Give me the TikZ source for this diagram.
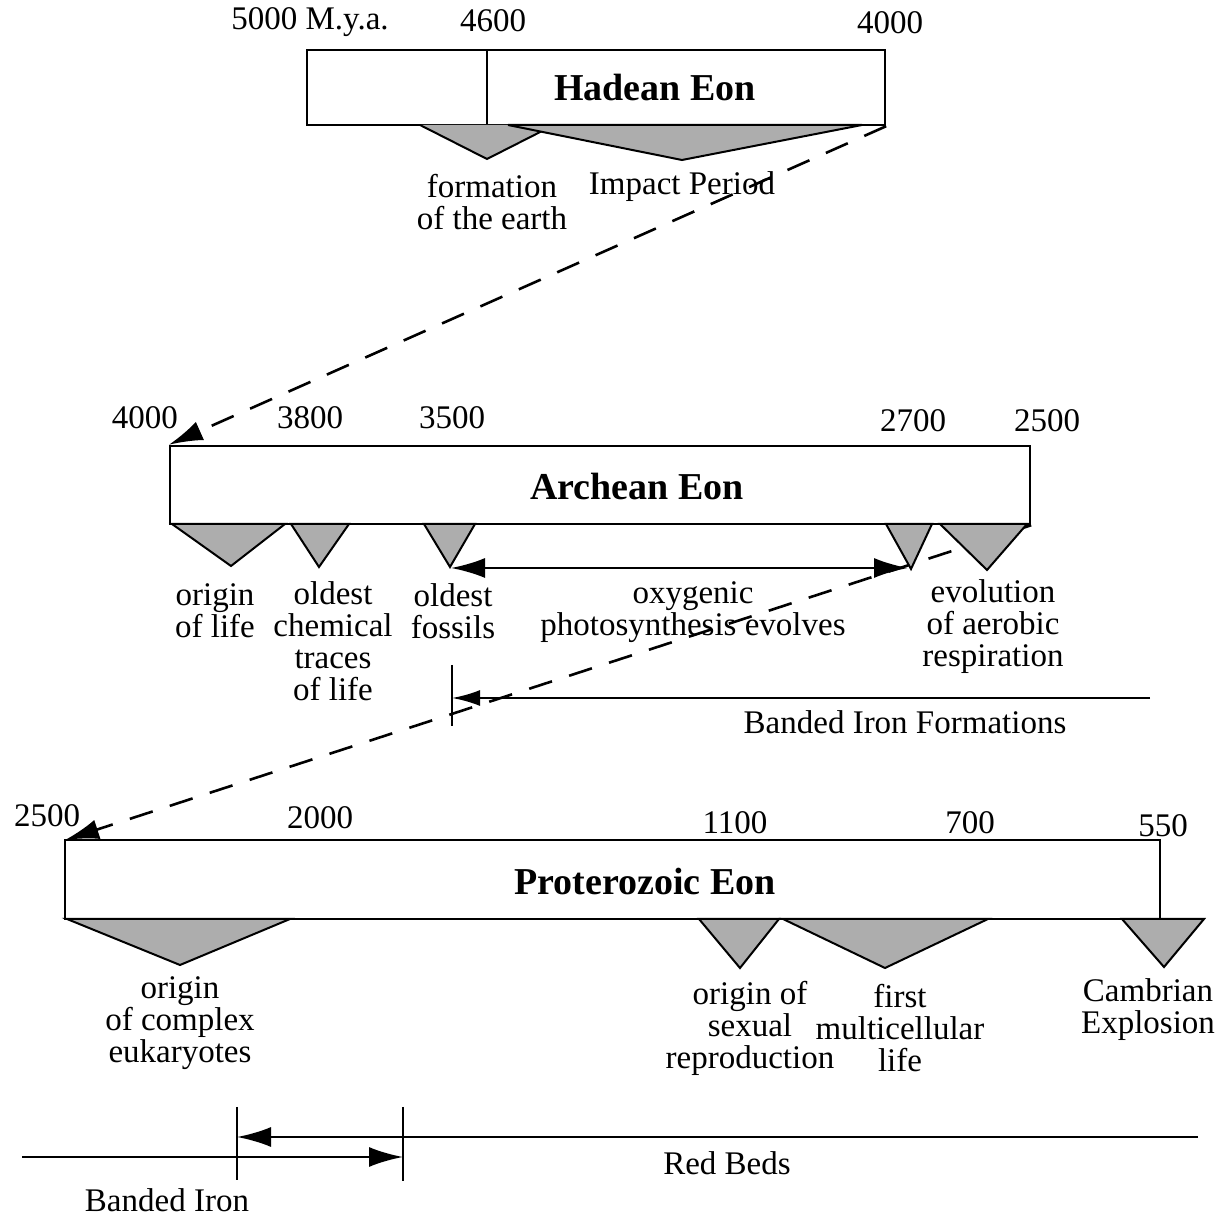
\documentclass[tikz,border=0pt]{standalone}
\usepackage{fontspec}
\setmainfont{Liberation Serif}
\usetikzlibrary{arrows.meta}
\tikzset{bigtip/.tip={Latex[length=17pt,width=10pt]},
  smalltip/.tip={Latex[length=14pt,width=8pt]}}

\begin{document}
\begin{tikzpicture}[x=0.5pt,y=-0.5pt,line join=miter,
  eonbox/.style={draw,line width=1.2pt,inner sep=0pt},
  eontitle/.style={font=\fontsize{19}{20}\selectfont\bfseries},
  lbl/.style={font=\fontsize{16.5}{16}\selectfont,align=center,inner sep=0pt},
  wedge/.style={draw,line width=1pt,fill=black!32},
  jump/.style={line width=1.3pt,dash pattern=on 12pt off 9pt,-bigtip},
  span/.style={line width=1.2pt}]
\useasboundingbox (0,0) rectangle (1222,1218);

% Hadean
\node[eonbox,minimum width=289pt,minimum height=37.5pt] (hadean) at (596,87.5) {};
\draw[line width=1.2pt] (487,50)--(487,125);
\node[eontitle] (hadeanT) at (655,88) {Hadean Eon};
\node[lbl] (h5000) at (310,22) {5000 M.y.a.};
\node[lbl] (h4600) at (493,21) {4600};
\node[lbl] (h4000) at (890,23) {4000};
\draw[wedge] (420,125)--(487,159)--(554,125);
\draw[wedge] (508,125)--(682,160)--(862,125)--cycle;
\node[lbl] (formation) at (492,202) {formation\\of the earth};
\node[lbl] (impact) at (682,187) {Impact Period};

% Archean
\node[eonbox,minimum width=430pt,minimum height=39pt] (archean) at (600,485) {};
\node[eontitle] (archeanT) at (637,487) {Archean Eon};
\draw[jump] (hadean.south east) -- (archean.north west);
\draw[jump] (archean.south east) -- (65,840) coordinate (proTop);
\node[lbl] (a4000) at (145,418) {4000};
\node[lbl] (a3800) at (310,418) {3800};
\node[lbl] (a3500) at (452,418) {3500};
\node[lbl] (a2700) at (913,421) {2700};
\node[lbl] (a2500) at (1047,421) {2500};
\draw[wedge] (172,524)--(231,566)--(285,524)--cycle;
\draw[wedge] (291,524)--(319,567)--(349,524)--cycle;
\draw[wedge] (424,524)--(450,567)--(475,524)--cycle;
\draw[wedge] (886,524)--(911,569)--(932,524)--cycle;
\draw[wedge] (940,524)--(987,570)--(1027,524)--cycle;
\coordinate (oxyL) at (451,568);
\coordinate (oxyR) at (908,568);
\draw[span,bigtip-bigtip] (oxyL) -- (oxyR);
\node[lbl] (life) at (215,611) {origin\\of life};
\node[lbl] (chem) at (333,641) {oldest\\chemical\\traces\\of life};
\node[lbl] (fossils) at (453,611) {oldest\\fossils};
\node[lbl] (oxy) at (693,612) {oxygenic\\photosynthesis evolves};
\node[lbl] (aerobic) at (993,627) {evolution\\of aerobic\\respiration};
% Banded Iron Formations
\coordinate (bifR) at (1150,698);
\coordinate (bifL) at (452,698);
\draw[line width=1pt] (452,665)--(452,726);
\draw[span,-smalltip] (bifR) -- (bifL);
\node[lbl] (bif) at (905,722) {Banded Iron Formations};

% Proterozoic
\node[eonbox,minimum width=547.5pt,minimum height=39.5pt] (prot) at (612.5,879.5) {};
\node[eontitle] (protT) at (645,882) {Proterozoic Eon};
\node[lbl] (p2500) at (47,816) {2500};
\node[lbl] (p2000) at (320,818) {2000};
\node[lbl] (p1100) at (735,823) {1100};
\node[lbl] (p700) at (970,823) {700};
\node[lbl] (p550) at (1163,826) {550};
\draw[wedge] (67,919)--(180,965)--(290,919)--cycle;
\draw[wedge] (699,919)--(740,968)--(779,919)--cycle;
\draw[wedge] (783,919)--(885,968)--(988,919)--cycle;
\draw[wedge] (1122,919)--(1164,967)--(1204,919)--cycle;
\node[lbl] (eukar) at (180,1023) {origin\\of complex\\eukaryotes};
\node[lbl] (sexual) at (750,1028) {origin of\\sexual\\reproduction};
\node[lbl] (multi) at (900,1028) {first\\multicellular\\life};
\node[lbl] (cambrian) at (1148,1010) {Cambrian\\Explosion};

% Red Beds / Banded Iron
\coordinate (redR) at (1198,1137);
\coordinate (redL) at (237,1137);
\coordinate (bandL) at (22,1157);
\coordinate (bandR) at (403,1157);
\draw[line width=1pt] (237,1107)--(237,1180);
\draw[line width=1pt] (403,1107)--(403,1181);
\draw[span,-bigtip] (redR) -- (redL);
\draw[span,-bigtip] (bandL) -- (bandR);
\node[lbl] (redbeds) at (727,1163) {Red Beds};
\node[lbl] (bandiron) at (167,1200) {Banded Iron};
\end{tikzpicture}
\end{document}
